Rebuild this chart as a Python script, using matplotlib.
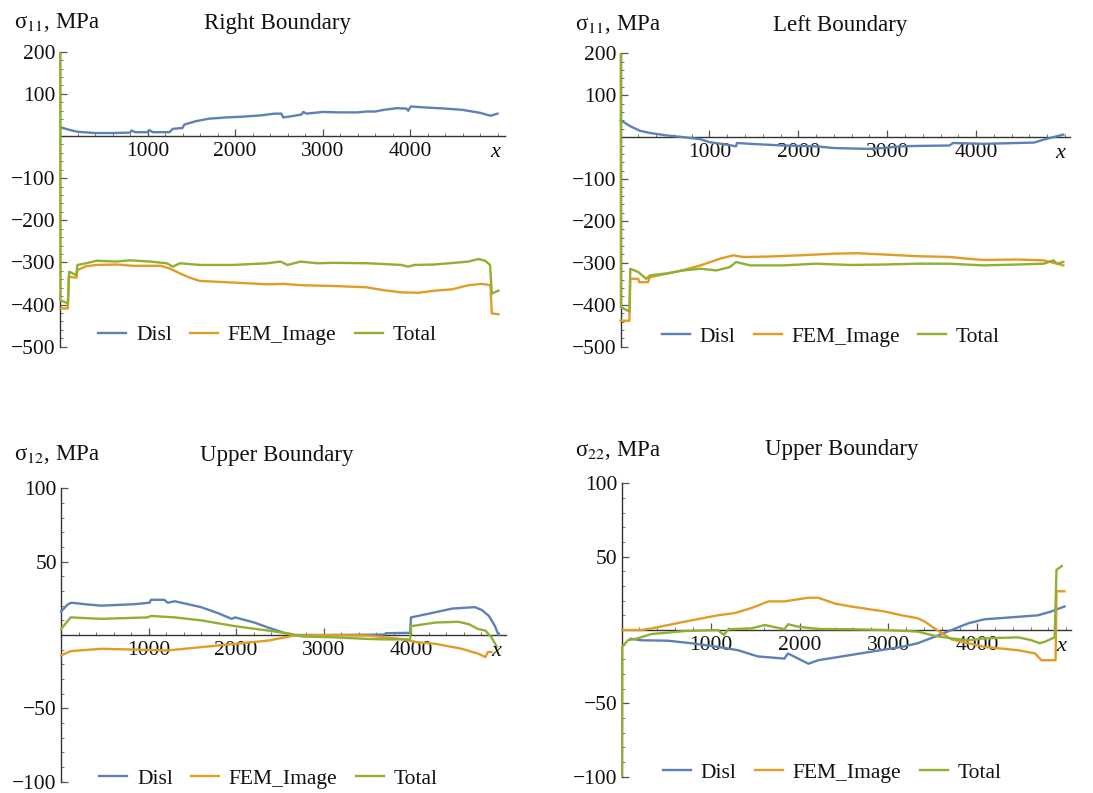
import matplotlib
matplotlib.use("Agg")
import matplotlib.pyplot as plt
from matplotlib.ticker import MultipleLocator, FixedLocator

plt.rcParams['font.family'] = ['Liberation Serif', 'DejaVu Serif']
plt.rcParams['mathtext.fontset'] = 'stix'

# series names and colours (Mathematica default palette)
series_names = ['Disl', 'FEM_Image', 'Total']
series_colors = ['#5E81B5', '#E19C24', '#8FB032']

# panel 1: sigma_11, right boundary  (x, MPa)
p1_disl = [(0, 21), (100, 15), (200, 10), (400, 7), (600, 7), (800, 8), (820, 13), (860, 9),
           (1000, 9), (1020, 14), (1060, 9), (1250, 9), (1290, 17), (1400, 19), (1420, 27),
           (1550, 35), (1700, 41), (1900, 44), (2100, 46), (2300, 49), (2450, 53), (2530, 53),
           (2550, 44), (2650, 47), (2760, 51), (2780, 57), (2820, 53), (3000, 57), (3200, 56),
           (3400, 56), (3500, 58), (3600, 58), (3700, 62), (3850, 66), (3960, 65), (3980, 60),
           (4010, 70), (4150, 68), (4400, 65), (4600, 62), (4800, 55), (4920, 48), (5000, 53)]
p1_fem = [(0, -409), (90, -409), (100, -334), (190, -336), (200, -318), (300, -309), (420, -306),
          (650, -305), (830, -308), (1150, -308), (1250, -314), (1370, -326), (1480, -336),
          (1600, -344), (2000, -348), (2370, -352), (2560, -351), (2750, -354), (3130, -356),
          (3500, -359), (3700, -366), (3900, -371), (4100, -372), (4280, -367), (4480, -364),
          (4670, -354), (4820, -351), (4920, -354), (4935, -421), (5010, -423)]
p1_total = [(0, 1000), (5, -390), (90, -397), (105, -322), (185, -330), (200, -306), (300, -302),
            (420, -296), (640, -298), (800, -295), (1030, -298), (1220, -302), (1290, -310),
            (1370, -302), (1600, -306), (1980, -306), (2370, -302), (2520, -298), (2600, -306),
            (2750, -298), (2940, -302), (3130, -301), (3520, -302), (3900, -306), (3980, -310),
            (4050, -306), (4280, -305), (4670, -298), (4780, -292), (4860, -296), (4915, -306),
            (4935, -374), (5010, -367)]

# panel 2: sigma_11, left boundary
p2_disl = [(0, 40), (50, 34), (110, 26), (220, 15), (330, 10), (520, 4), (710, 0), (900, -5),
           (1000, -12), (1200, -18), (1300, -22), (1310, -14), (1460, -16), (1830, -20),
           (2200, -22), (2400, -26), (2770, -28), (2960, -26), (3150, -22), (3330, -21),
           (3700, -20), (3740, -14), (4080, -16), (4460, -14), (4650, -13), (4760, -6),
           (4870, 0), (4980, 6)]
p2_fem = [(0, -438), (100, -438), (110, -338), (200, -338), (210, -346), (310, -346), (330, -334),
          (520, -326), (710, -317), (900, -306), (1010, -298), (1120, -290), (1270, -282),
          (1380, -286), (1650, -285), (2020, -282), (2400, -278), (2660, -277), (2960, -280),
          (3330, -284), (3710, -286), (3900, -290), (4080, -293), (4460, -292), (4760, -294),
          (4910, -302), (4980, -306)]
p2_total = [(0, 1000), (5, -406), (100, -416), (110, -314), (200, -322), (290, -338), (330, -330),
            (520, -325), (710, -318), (900, -314), (1080, -318), (1230, -310), (1300, -298),
            (1460, -306), (1830, -306), (2200, -302), (2580, -305), (2960, -304), (3330, -302),
            (3700, -302), (4080, -306), (4460, -304), (4760, -302), (4870, -294), (4910, -302),
            (4980, -298)]

# panel 3: sigma_12, upper boundary
p3_disl = [(0, 16), (80, 21), (120, 22), (270, 21), (460, 20), (840, 21), (1010, 22), (1030, 24),
           (1180, 24), (1220, 22), (1300, 23), (1600, 19), (1790, 15), (1950, 11), (1990, 12),
           (2210, 8.5), (2370, 5), (2560, 1.3), (2640, 0), (3000, 0), (3700, 0.3), (3710, 1.2),
           (3990, 1.5), (4000, 12), (4240, 15), (4470, 18), (4730, 19), (4810, 17), (4890, 13),
           (4960, 6), (5000, 0)]
p3_fem = [(0, -14), (110, -11), (460, -9.4), (1220, -10.5), (1600, -8.3), (1990, -6), (2370, -3.8),
          (2560, -1.6), (2670, -0.4), (3130, 0), (3510, -0.4), (3890, -2.7), (4080, -5),
          (4280, -6), (4580, -9.4), (4770, -12.8), (4850, -15), (4880, -11.6), (4920, -11.6)]
p3_total = [(0, 4), (110, 12), (460, 11), (990, 12), (1030, 13), (1300, 12), (1600, 10),
            (1990, 6), (2370, 3), (2630, 0.7), (2750, -1), (3130, -1.6), (3510, -2.7),
            (3700, -3), (3990, -3), (4000, 6), (4280, 8.5), (4540, 9), (4660, 7.4), (4770, 4),
            (4850, 3), (4920, -1.6), (4980, -8)]

# panel 4: sigma_22, upper boundary
p4_disl = [(100, -6), (220, -7), (520, -7.3), (780, -9), (1080, -11.5), (1310, -13.8),
           (1530, -18), (1830, -19.5), (1870, -16), (2100, -23), (2210, -20.6), (2580, -17),
           (2960, -13.3), (3150, -11.5), (3330, -9), (3520, -4.6), (3710, 0), (3900, 4.6),
           (4080, 7.3), (4460, 9), (4680, 10), (4830, 12.6), (4980, 16)]
p4_fem = [(0, 0), (220, 0), (330, 1), (710, 5.7), (1080, 10), (1270, 11.5), (1460, 15),
          (1650, 19.5), (1830, 19.5), (2100, 22), (2210, 22), (2400, 18), (2580, 16),
          (2960, 12.6), (3150, 10), (3330, 8), (3410, 5.7), (3520, 1), (3710, -6.4), (3900, -9),
          (4080, -11.5), (4460, -13.8), (4650, -16), (4720, -20.6), (4880, -20.6), (4890, 26.4),
          (4980, 26.4)]
p4_total = [(0, -150), (5, -11.5), (70, -7), (180, -5.7), (330, -2.8), (710, -0.7), (1080, 0),
            (1150, -3.4), (1200, 0.5), (1460, 1.1), (1610, 3.4), (1830, 0.5), (1870, 3.9),
            (1980, 2.3), (2210, 0.7), (2580, 0.5), (2960, 0), (3330, -1.1), (3520, -4),
            (3710, -5.7), (3900, -7), (4080, -5.7), (4460, -5), (4610, -7), (4700, -9),
            (4760, -8), (4870, -5), (4890, 41), (4950, 43.6)]

titles = ['Right Boundary', 'Left Boundary', 'Upper Boundary', 'Upper Boundary']
ylabels = ['σ$_{11}$, MPa', 'σ$_{11}$, MPa', 'σ$_{12}$, MPa', 'σ$_{22}$, MPa']
x_major = [1000, 2000, 3000, 4000]
y_major_top = [-500, -400, -300, -200, -100, 100, 200]
y_major_bot = [-100, -50, 50, 100]

W, H = 1093, 793
XPAD = 12   # a little room left of x=0 so the line on the axis is not cut
fig = plt.figure(figsize=(W / 100, H / 100), dpi=100)


def box(left, top, width, height, xmax):
    # shift the box left so that data x=0 still sits at `left`
    extra = width * XPAD / xmax
    return [(left - extra) / W, 1 - (top + height) / H, (width + extra) / W, height / H]


# (axes box px, xlim, ylim, y ticks, y minor step, title pos, ylabel pos, legend anchor)
panels = [
    (box(60, 51.7, 444.5, 295, 5080), 5080, (-500, 200), y_major_top, 20, (277, 23), (14, 23), (0.468, -0.025)),
    (box(620.5, 53.3, 449, 293.4, 5050), 5050, (-500, 200), y_major_top, 20, (840, 25), (575, 25), (0.47, -0.03)),
    (box(61, 488.3, 444.5, 293.4, 5080), 5080, (-100, 100), y_major_bot, 10, (277, 455), (14, 455), (0.468, -0.054)),
    (box(621.7, 483.3, 449, 293.4, 5050), 5050, (-100, 100), y_major_bot, 10, (842, 450), (575, 450), (0.47, -0.05)),
]
data = [(p1_disl, p1_fem, p1_total), (p2_disl, p2_fem, p2_total),
        (p3_disl, p3_fem, p3_total), (p4_disl, p4_fem, p4_total)]

for i, (rect, xmax, ylim, yt, ystep, tpos, lpos, lanchor) in enumerate(panels):
    ax = fig.add_axes(rect)
    for pts, name, col in zip(data[i], series_names, series_colors):
        xs = [p[0] for p in pts]
        ys = [p[1] for p in pts]
        ax.plot(xs, ys, color=col, lw=1.7, label=name, zorder=3)
    ax.set_xlim(-XPAD, xmax)
    ax.set_ylim(*ylim)

    ax.spines[['top', 'right']].set_visible(False)
    ax.spines['bottom'].set_position(('data', 0))
    ax.spines['left'].set_position(('data', 0))
    ax.spines['bottom'].set_bounds(0, xmax)
    for s in ['left', 'bottom']:
        ax.spines[s].set_color('#333333')
        ax.spines[s].set_linewidth(1.0)

    ax.xaxis.set_major_locator(FixedLocator(x_major))
    ax.xaxis.set_minor_locator(MultipleLocator(200))
    ax.yaxis.set_major_locator(FixedLocator(yt))
    ax.yaxis.set_minor_locator(MultipleLocator(ystep))
    ax.set_yticklabels([f'{v}'.replace('-', '\u2212') for v in yt])
    ax.tick_params(which='major', direction='in', length=5, width=0.9, color='#555555',
                   labelsize=15.5, labelcolor='#111111')
    ax.tick_params(which='minor', direction='in', length=2.5, width=0.7, color='#777777')
    ax.tick_params(axis='x', pad=4)
    ax.tick_params(axis='y', pad=3)

    ax.annotate('x', xy=(1, 0), xycoords=('axes fraction', 'data'), xytext=(-3, -12),
                textcoords='offset points', ha='right', va='center', fontsize=16,
                style='italic', color='#111111')

    fig.text(tpos[0] / W, 1 - tpos[1] / H, titles[i], ha='center', va='center', fontsize=16.5,
             color='#111111')
    fig.text(lpos[0] / W, 1 - lpos[1] / H, ylabels[i], ha='left', va='center', fontsize=16.5,
             color='#111111')

    ax.legend(loc='lower center', bbox_to_anchor=lanchor, ncol=3, frameon=False, fontsize=15.5,
              handlelength=1.3, handletextpad=0.45, columnspacing=0.85, borderaxespad=0,
              labelcolor='#111111')

fig.savefig('out.png', dpi=100)
